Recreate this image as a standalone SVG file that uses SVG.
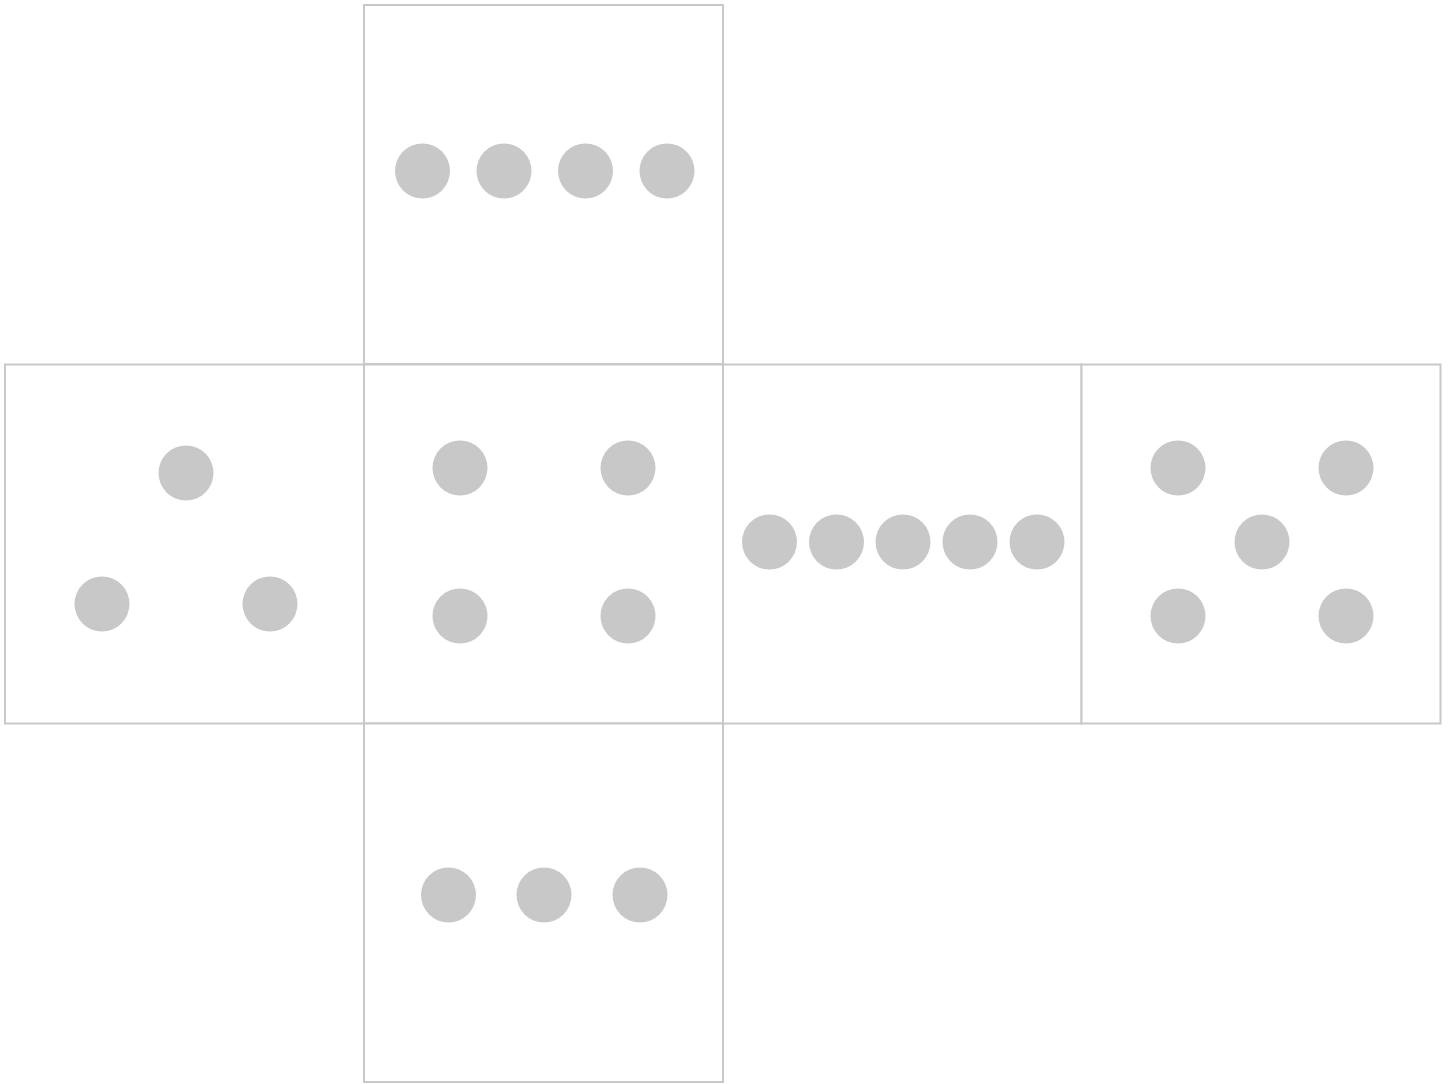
<svg xmlns="http://www.w3.org/2000/svg" width="1448" height="1084" viewBox="0 0 1448 1084">
<style>
.face{fill:#ffffff;stroke:#c8c8c8;stroke-width:2}
.pip{fill:#c8c8c8;stroke:none}
</style>
<rect width="1448" height="1084" fill="#ffffff"/>
<g id="face-top"><rect class="face" x="364" y="5" width="359" height="359"/>
<circle class="pip" cx="422.5" cy="171" r="27.5"/><circle class="pip" cx="504" cy="171" r="27.5"/><circle class="pip" cx="585.5" cy="171" r="27.5"/><circle class="pip" cx="667" cy="171" r="27.5"/></g>
<g id="face-left"><rect class="face" x="5" y="364.5" width="359" height="359"/>
<circle class="pip" cx="186" cy="473" r="27.5"/><circle class="pip" cx="102" cy="604" r="27.5"/><circle class="pip" cx="270" cy="604" r="27.5"/></g>
<g id="face-center"><rect class="face" x="364" y="364.5" width="359" height="359"/>
<circle class="pip" cx="460" cy="468" r="27.5"/><circle class="pip" cx="628" cy="468" r="27.5"/><circle class="pip" cx="460" cy="616" r="27.5"/><circle class="pip" cx="628" cy="616" r="27.5"/></g>
<g id="face-right"><rect class="face" x="723" y="364.5" width="358.5" height="359"/>
<circle class="pip" cx="769.5" cy="542" r="27.5"/><circle class="pip" cx="836.5" cy="542" r="27.5"/><circle class="pip" cx="903" cy="542" r="27.5"/><circle class="pip" cx="970" cy="542" r="27.5"/><circle class="pip" cx="1037" cy="542" r="27.5"/></g>
<g id="face-back"><rect class="face" x="1081.5" y="364.5" width="359" height="359"/>
<circle class="pip" cx="1178" cy="468" r="27.5"/><circle class="pip" cx="1346" cy="468" r="27.5"/><circle class="pip" cx="1262" cy="542" r="27.5"/><circle class="pip" cx="1178" cy="616" r="27.5"/><circle class="pip" cx="1346" cy="616" r="27.5"/></g>
<g id="face-bottom"><rect class="face" x="364" y="723.5" width="359" height="358.5"/>
<circle class="pip" cx="448.5" cy="895" r="27.5"/><circle class="pip" cx="544" cy="895" r="27.5"/><circle class="pip" cx="640" cy="895" r="27.5"/></g>
<g id="connectors"></g>
</svg>
